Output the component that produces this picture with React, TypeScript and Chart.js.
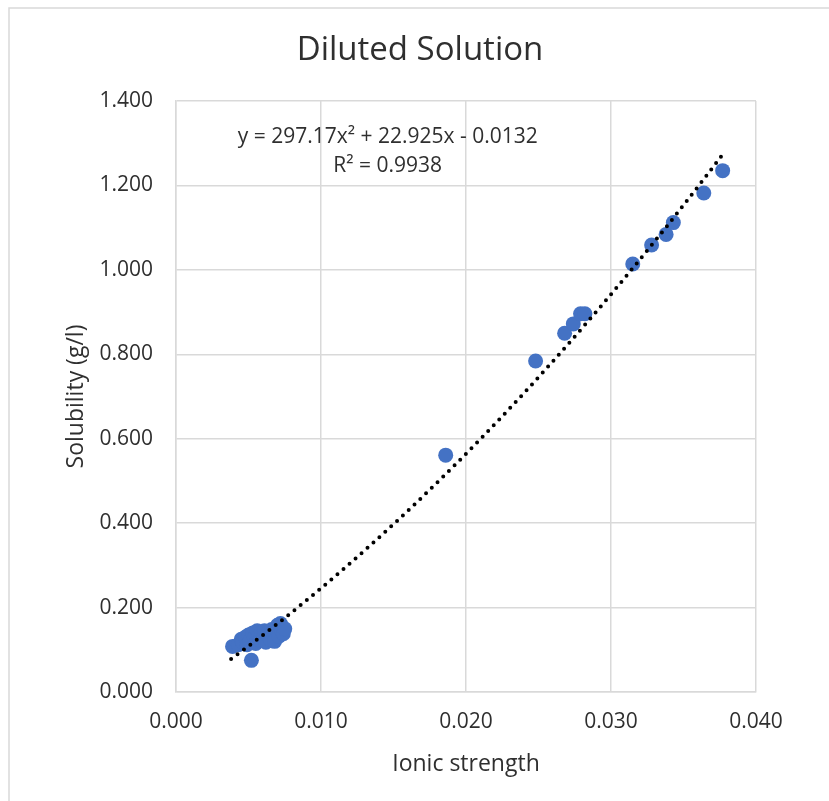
import React, { useEffect, useRef } from "react";
import { Chart, registerables } from "chart.js";

Chart.register(...registerables);

const chartTitle = "Diluted Solution";
const xAxisTitle = "Ionic strength";
const yAxisTitle = "Solubility (g/l)";

const ionicStrength = [
  0.0039, 0.0043, 0.0045, 0.0046, 0.0048, 0.0049, 0.005, 0.0051, 0.0052, 0.0053,
  0.0054, 0.0055, 0.0056, 0.0057, 0.0058, 0.0059, 0.006, 0.0061, 0.0062, 0.0063,
  0.0064, 0.0065, 0.0066, 0.0067, 0.0068, 0.0069, 0.007, 0.0071, 0.0072, 0.0073,
  0.0074, 0.0075,
  0.0186, 0.0248, 0.0268, 0.0274, 0.0279, 0.0282, 0.0315, 0.0328, 0.0338, 0.0343,
  0.0364, 0.0377,
];
const solubility = [
  0.108, 0.112, 0.125, 0.118, 0.13, 0.112, 0.135, 0.12, 0.075, 0.14,
  0.128, 0.115, 0.145, 0.132, 0.122, 0.14, 0.128, 0.145, 0.118, 0.135,
  0.142, 0.125, 0.148, 0.138, 0.12, 0.15, 0.158, 0.132, 0.162, 0.145,
  0.138, 0.15,
  0.561, 0.784, 0.85, 0.872, 0.896, 0.896, 1.014, 1.059, 1.084, 1.112,
  1.182, 1.235,
];

// Polynomial trendline coefficients as printed on the chart: a*x^2 + b*x + c
const trendA = 297.17;
const trendB = 22.925;
const trendC = -0.0132;
const trendStart = 0.0038;
const trendEnd = 0.0377;
const equationLines = ["y = 297.17x\u00B2 + 22.925x - 0.0132", "R\u00B2 = 0.9938"];
const equationAt = { x: 0.0146, y: 1.315 };

const xMin = 0, xMax = 0.04, xStep = 0.01;
const yMin = 0, yMax = 1.4, yStep = 0.2;

const FONT = "'Open Sans', 'DejaVu Sans', sans-serif";
const TEXT = "#2f2f2f";
const GRID = "#d9d9d9";
const BLUE = "#4472C4";

const W = 829, H = 801;
const PLOT_LEFT = 176, PLOT_RIGHT = 756, PLOT_TOP = 101, PLOT_BOTTOM = 692;

export default function App() {
  const ref = useRef<HTMLCanvasElement | null>(null);
  useEffect(() => {
    if (!ref.current) return;
    const n = 80;
    const trend: { x: number; y: number }[] = [];
    for (let i = 0; i <= n; i++) {
      const x = trendStart + ((trendEnd - trendStart) * i) / n;
      trend.push({ x, y: trendA * x * x + trendB * x + trendC });
    }
    const points = ionicStrength.map((x, i) => ({ x, y: solubility[i] }));

    const decor = {
      id: "decor",
      beforeDraw(chart: any) {
        const ctx = chart.ctx;
        ctx.save();
        ctx.fillStyle = "#ffffff";
        ctx.fillRect(0, 0, chart.width, chart.height);
        ctx.strokeStyle = GRID;
        ctx.lineWidth = 1.5;
        ctx.strokeRect(9, 8, chart.width + 20, chart.height + 20);
        ctx.restore();
      },
      afterDraw(chart: any) {
        const ctx = chart.ctx;
        ctx.save();
        ctx.fillStyle = TEXT;
        ctx.textAlign = "center";
        ctx.textBaseline = "middle";
        ctx.font = `33px ${FONT}`;
        ctx.fillText(chartTitle, 420, 51);
        const xs = chart.scales.x, ys = chart.scales.y;
        const ex = xs.getPixelForValue(equationAt.x);
        const ey = ys.getPixelForValue(equationAt.y);
        ctx.font = `21px ${FONT}`;
        ctx.fillText(equationLines[0], ex, ey);
        ctx.fillText(equationLines[1], ex, ey + 29);
        ctx.restore();
      },
    };

    const chart = new Chart(ref.current, {
      type: "scatter",
      data: {
        datasets: [
          {
            label: "Trend",
            data: trend,
            showLine: true,
            pointRadius: 0,
            borderColor: "#000000",
            borderWidth: 4,
            borderDash: [0, 8],
            borderCapStyle: "round",
            fill: false,
            tension: 0,
          } as any,
          {
            label: "Data",
            data: points,
            pointRadius: 7.5,
            pointBackgroundColor: BLUE,
            pointBorderColor: BLUE,
            pointBorderWidth: 0,
            showLine: false,
          },
        ],
      },
      options: {
        animation: false,
        responsive: true,
        maintainAspectRatio: false,
        layout: { padding: { left: 0, top: PLOT_TOP, right: W - PLOT_RIGHT, bottom: 0 } },
        plugins: { legend: { display: false }, tooltip: { enabled: false }, title: { display: false } },
        scales: {
          x: {
            type: "linear",
            min: xMin,
            max: xMax,
            afterFit: (s: any) => { s.height = H - PLOT_BOTTOM; },
            ticks: {
              stepSize: xStep,
              color: TEXT,
              font: { family: FONT, size: 21 },
              padding: 17,
              callback: (v: any) => Number(v).toFixed(3),
            },
            grid: { color: GRID, lineWidth: 1.5, drawTicks: false },
            border: { color: GRID, width: 1.5 },
            title: {
              display: true,
              text: xAxisTitle,
              color: TEXT,
              font: { family: FONT, size: 23 },
              padding: { top: 0, bottom: 23 },
            },
          },
          y: {
            type: "linear",
            min: yMin,
            max: yMax,
            afterFit: (s: any) => { s.width = PLOT_LEFT; },
            ticks: {
              stepSize: yStep,
              color: TEXT,
              font: { family: FONT, size: 21 },
              padding: 23,
              callback: (v: any) => Number(v).toFixed(3),
            },
            grid: { color: GRID, lineWidth: 1.5, drawTicks: false },
            border: { color: GRID, width: 1.5 },
            title: {
              display: true,
              text: yAxisTitle,
              color: TEXT,
              font: { family: FONT, size: 23 },
              padding: { top: 63, bottom: 0 },
            },
          },
        },
      },
      plugins: [decor],
    });
    return () => chart.destroy();
  }, []);

  return (
    <div style={{ position: "absolute", left: 0, top: 0, width: W, height: H, background: "#fff" }}>
      <canvas ref={ref} />
    </div>
  );
}
